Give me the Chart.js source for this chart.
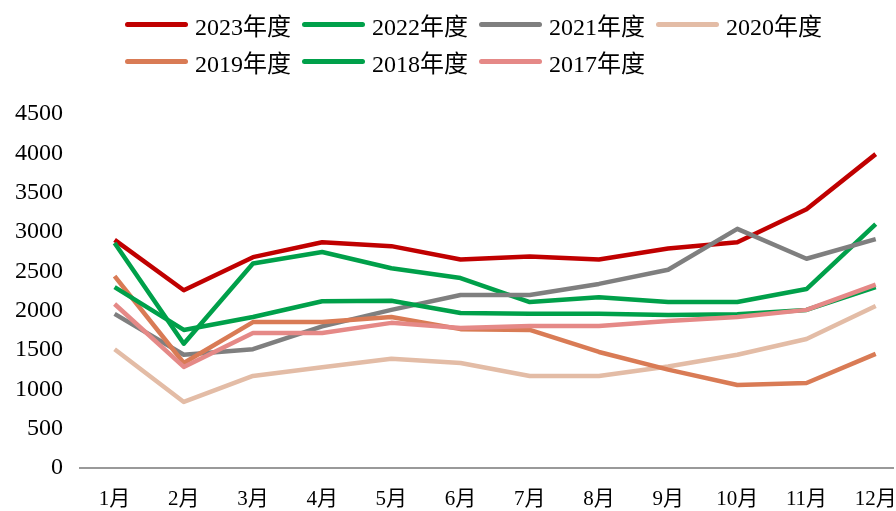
<!DOCTYPE html>
<html>
<head>
<meta charset="utf-8">
<script src="https://cdn.jsdelivr.net/npm/chart.js@4.4.0/dist/chart.umd.min.js"></script>
<style>
  body { margin: 0; background: #fff; }
  #wrap { position: relative; width: 896px; height: 511px; }
  #legend { position: absolute; left: 125px; top: 0; font-family: "Liberation Serif", "Times New Roman", "Noto Sans CJK SC", serif; font-size: 24px; color: #000; }
  .row { position: absolute; left: 0; display: flex; white-space: nowrap; }
  .item { width: 177px; display: flex; align-items: center; height: 28px; }
  .swatch { width: 63px; height: 5px; border-radius: 3px; margin-right: 7px; }
</style>
</head>
<body>
<div id="wrap">
  <canvas id="chart"></canvas>
  <div id="legend"></div>
</div>
<script>
// 월 라벨
const months = ['1月', '2月', '3月', '4月', '5月', '6月', '7月', '8月', '9月', '10月', '11月', '12月'];

const seriesNames = ['2023年度', '2022年度', '2021年度', '2020年度', '2019年度', '2018年度', '2017年度'];
const seriesColors = ['#C00000', '#00A04A', '#7F7F7F', '#E3BCA6', '#D97B55', '#00A04A', '#E58987'];

const y2023 = [2900, 2260, 2680, 2870, 2820, 2650, 2690, 2650, 2790, 2870, 3290, 3990];
const y2022 = [2860, 1580, 2600, 2745, 2540, 2415, 2110, 2170, 2110, 2110, 2275, 3100];
const y2021 = [1960, 1440, 1510, 1800, 2010, 2200, 2200, 2340, 2520, 3040, 2660, 2910];
const y2020 = [1510, 840, 1170, 1280, 1390, 1335, 1170, 1170, 1290, 1440, 1640, 2060];
const y2019 = [2440, 1335, 1855, 1855, 1920, 1765, 1755, 1475, 1250, 1055, 1080, 1450];
const y2018 = [2300, 1755, 1920, 2120, 2125, 1970, 1960, 1960, 1945, 1955, 2010, 2300];
const y2017 = [2085, 1285, 1715, 1715, 1845, 1780, 1805, 1805, 1870, 1920, 2010, 2330];

const seriesValues = [y2023, y2022, y2021, y2020, y2019, y2018, y2017];

const serif = '"Liberation Serif", "Times New Roman", "Noto Sans CJK SC", serif';

const datasets = seriesValues.map((vals, i) => ({
  label: seriesNames[i],
  data: vals.map((v, k) => ({ x: k + 1, y: v })),
  borderColor: seriesColors[i],
  backgroundColor: seriesColors[i],
  borderWidth: 4.5,
  pointRadius: 0,
  tension: 0,
  borderJoinStyle: 'round',
  fill: false,
  order: seriesValues.length - i, // 뒤 시리즈가 위에 그려지도록
}));

// 범례 (HTML, 2줄)
const legendEl = document.getElementById('legend');
const rows = [[0, 1, 2, 3], [4, 5, 6]];
rows.forEach((idxs, r) => {
  const row = document.createElement('div');
  row.className = 'row';
  row.style.top = (r === 0 ? 10 : 47) + 'px';
  idxs.forEach(i => {
    const item = document.createElement('div');
    item.className = 'item';
    const sw = document.createElement('span');
    sw.className = 'swatch';
    sw.style.background = seriesColors[i];
    const txt = document.createElement('span');
    txt.textContent = seriesNames[i];
    item.appendChild(sw);
    item.appendChild(txt);
    row.appendChild(item);
  });
  legendEl.appendChild(row);
});

const ctx = document.getElementById('chart').getContext('2d');
new Chart(ctx, {
  type: 'line',
  data: { datasets },
  options: {
    responsive: true,
    maintainAspectRatio: false,
    animation: false,
    layout: { padding: { top: 114, right: 3, bottom: 0, left: 0 } },
    plugins: {
      legend: { display: false },
      tooltip: { enabled: false },
    },
    scales: {
      x: {
        type: 'linear',
        min: 0.5,
        max: 12.25,
        afterBuildTicks: (s) => { s.ticks = months.map((m, i) => ({ value: i + 1 })); },
        afterFit: (s) => { s.paddingLeft = 0; s.paddingRight = 0; s.height = 43; },
        ticks: {
          autoSkip: false,
          maxRotation: 0,
          minRotation: 0,
          padding: 19,
          color: '#000',
          font: { size: 21, family: serif },
          callback: (v) => months[v - 1] || '',
        },
        grid: { display: false, drawTicks: false },
        border: { color: '#999999', width: 2 },
      },
      y: {
        min: 0,
        max: 4500,
        afterFit: (s) => { s.width = 80; },
        ticks: {
          stepSize: 500,
          padding: 17,
          color: '#000',
          font: { size: 24, family: serif },
          callback: (v) => String(v),
        },
        grid: { display: false, drawTicks: false },
        border: { display: false },
      },
    },
  },
});
</script>
</body>
</html>
